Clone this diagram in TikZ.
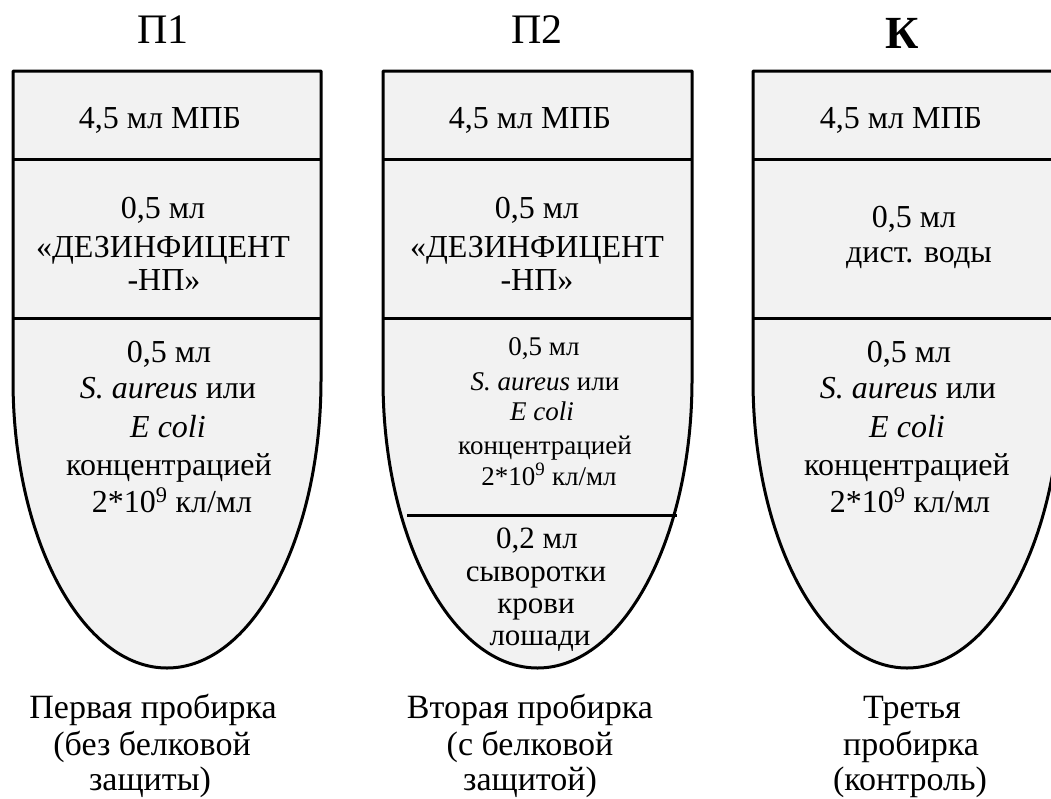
\documentclass[tikz,border=0pt]{standalone}
\usepackage{fontspec}
\setmainfont{Liberation Serif}
\definecolor{tubefill}{HTML}{F2F2F2}
\tikzset{
  tubeline/.style={line width=3pt, draw=black},
  tubebody/.style={tubeline, fill=tubefill, line join=round},
  txt/.style={font=\fontsize{32}{37}\selectfont, anchor=base, inner sep=0pt},
  serumtxt/.style={font=\fontsize{31}{35}\selectfont, anchor=base, inner sep=0pt},
  smalltxt/.style={font=\fontsize{27}{31}\selectfont, anchor=base, inner sep=0pt},
  captxt/.style={font=\fontsize{34}{37}\selectfont, anchor=base, inner sep=0pt},
  titletxt/.style={font=\fontsize{42}{48}\selectfont, anchor=base, inner sep=0pt},
}
\newcommand\mytube[2]{% L, R
  \pgfmathsetmacro\tc{(#1+#2)/2}
  \pgfmathsetmacro\kx{0.5523*(#2-#1)/2}
  \filldraw[tubebody] (#1,71) -- (#1,380) .. controls (#1,539) and (\tc-\kx,668) .. (\tc,668)
    .. controls (\tc+\kx,668) and (#2,539) .. (#2,380) -- (#2,71) -- cycle;
  \draw[tubeline] (#1,159) -- (#2,159);
  \draw[tubeline] (#1,318) -- (#2,318);
}
\begin{document}
\begin{tikzpicture}[x=1pt,y=-1pt]
\useasboundingbox (0,0) rectangle (1051,798);
\clip (0,0) rectangle (1051,798);
\fill[white] (0,0) rectangle (1051,798);

% tubes
\mytube{13}{321}
\mytube{383}{692}
\mytube{753}{1061}
\draw[tubeline] (407,515) -- (677,515);

% titles
\node[titletxt] (p1) at (163,43) {П1};
\node[titletxt] (p2) at (537,43) {П2};
\node[titletxt, font=\fontsize{46}{50}\selectfont\bfseries] (k) at (902,48) {К};

% tube 1
\node[txt] (a1) at (160,128) {4,5 мл МПБ};
\node[txt] (a2) at (163,218) {0,5 мл};
\node[txt] (a3) at (163,257) {«ДЕЗИНФИЦЕНТ};
\node[txt] (a4) at (164,290) {-НП»};
\node[txt] (a5) at (169,362) {0,5 мл};
\node[txt] (a6) at (168,398) {\textit{S. aureus} или};
\node[txt] (a7) at (168,437) {\textit{E coli}};
\node[txt] (a8) at (169,475) {концентрацией};
\node[txt] (a9) at (172,512) {2*10\textsuperscript{9} кл/мл};

% tube 2
\node[txt] (b1) at (530,128) {4,5 мл МПБ};
\node[txt] (b2) at (537,218) {0,5 мл};
\node[txt] (b3) at (537,257) {«ДЕЗИНФИЦЕНТ};
\node[txt] (b4) at (537,290) {-НП»};
\node[smalltxt] (b5) at (544,355) {0,5 мл};
\node[smalltxt] (b6) at (545,390) {\textit{S. aureus} или};
\node[smalltxt] (b7) at (542,420) {\textit{E coli}};
\node[smalltxt] (b8) at (545,454) {концентрацией};
\node[smalltxt] (b9) at (549,485) {2*10\textsuperscript{9} кл/мл};
\node[serumtxt] (c1) at (537,548) {0,2 мл};
\node[serumtxt] (c2) at (536,581) {сыворотки};
\node[serumtxt] (c3) at (536,613) {крови};
\node[serumtxt] (c4) at (540,645) {лошади};

% tube 3
\node[txt] (d1) at (901,128) {4,5 мл МПБ};
\node[txt] (d2) at (914,227) {0,5 мл};
\node[txt] (d3) at (919,262) {дист. воды};
\node[txt] (d5) at (909,362) {0,5 мл};
\node[txt] (d6) at (908,398) {\textit{S. aureus} или};
\node[txt] (d7) at (907,437) {\textit{E coli}};
\node[txt] (d8) at (907,475) {концентрацией};
\node[txt] (d9) at (910,512) {2*10\textsuperscript{9} кл/мл};

% captions
\node[captxt] (e1) at (153,718) {Первая пробирка};
\node[captxt] (e2) at (152,755) {(без белковой};
\node[captxt] (e3) at (150,790) {защиты)};
\node[captxt] (f1) at (530,718) {Вторая пробирка};
\node[captxt] (f2) at (530,755) {(с белковой};
\node[captxt] (f3) at (530,790) {защитой)};
\node[captxt] (g1) at (912,718) {Третья};
\node[captxt] (g2) at (911,755) {пробирка};
\node[captxt] (g3) at (910,790) {(контроль)};
\end{tikzpicture}
\end{document}
